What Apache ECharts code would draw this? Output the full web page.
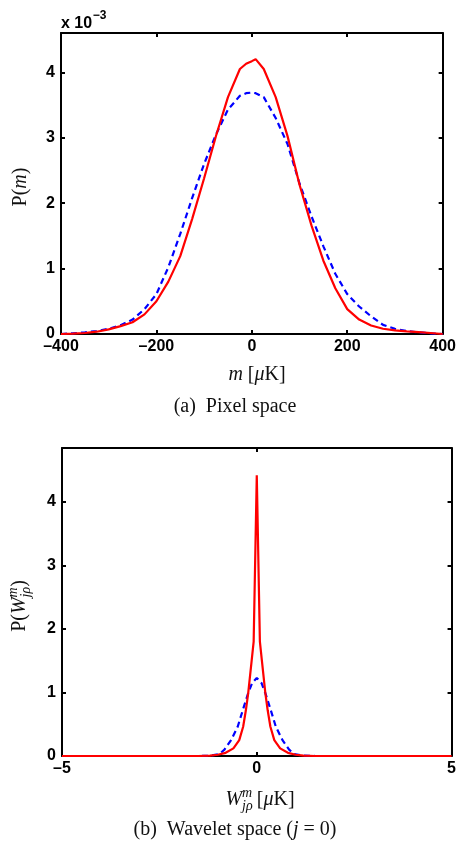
<!DOCTYPE html>
<html>
<head>
<meta charset="utf-8">
<script src="https://cdn.jsdelivr.net/npm/echarts@6/dist/echarts.min.js"></script>
<style>
html,body{margin:0;padding:0;background:#fff;}
#chart{width:459px;height:844px;}
</style>
</head>
<body>
<div id="chart"></div>
<script>
// ---- Panel (a): pixel space, values in units of 1e-3 ----
const pixelM = [-400,-375,-350,-325,-300,-275,-250,-225,-200,-175,-150,-125,-100,-75,-50,-25,-12,0,8,25,50,75,100,125,150,175,200,225,250,275,300,325,350,375,400];
const pixelRed = [0,0.005,0.015,0.035,0.07,0.12,0.18,0.30,0.50,0.80,1.19,1.76,2.38,3.03,3.62,4.05,4.13,4.17,4.20,4.05,3.62,3.02,2.28,1.66,1.12,0.70,0.38,0.22,0.13,0.08,0.055,0.04,0.03,0.015,0];
const pixelBlue = [0,0.01,0.025,0.045,0.08,0.135,0.22,0.38,0.61,1.02,1.53,2.08,2.60,3.05,3.43,3.64,3.68,3.69,3.68,3.62,3.30,2.90,2.30,1.80,1.34,0.92,0.61,0.42,0.27,0.14,0.08,0.045,0.025,0.01,0];
const pixelXTicks = [-400,-200,0,200,400];
const pixelYTicks = [0,1,2,3,4];

// ---- Panel (b): wavelet space (j = 0) ----
const waveRedW = [-5,-1.5,-1.2,-1.0,-0.8,-0.6,-0.45,-0.35,-0.28,-0.22,-0.13,-0.08,0,0.08,0.13,0.22,0.28,0.35,0.45,0.6,0.8,1.0,1.2,1.5,5];
const waveRed = [0,0,0.005,0.02,0.05,0.12,0.25,0.46,0.72,0.99,1.51,1.8,4.42,1.8,1.51,0.99,0.72,0.46,0.25,0.12,0.05,0.02,0.005,0,0];
const waveBlueW = [-5,-1.5,-1.2,-0.96,-0.83,-0.66,-0.49,-0.36,-0.22,-0.12,0,0.12,0.22,0.36,0.49,0.66,0.83,0.96,1.2,1.5,5];
const waveBlue = [0,0,0.005,0.03,0.1,0.25,0.46,0.72,0.99,1.15,1.23,1.15,0.99,0.72,0.46,0.25,0.1,0.03,0.005,0,0];
const waveXTicks = [-5,0,5];
const waveYTicks = [0,1,2,3,4];

function pairs(xs, ys){ return xs.map((x,i)=>[x, ys[i]]); }

const chart = echarts.init(document.getElementById('chart'), null, {renderer:'canvas'});

const TICKFONT = {color:'#000', fontFamily:'"Liberation Sans", Arial, sans-serif', fontWeight:'bold', fontSize:16};
const dashFmt = v => String(v).replace('-', '\u2013');

function mkX(grid, min, max, ticks, pos, labels){
  return {
    type:'value', gridIndex:grid, min:min, max:max, position:pos,
    axisLine:{show:true, onZero:false, lineStyle:{color:'#000', width:2}},
    axisTick:{show:true, inside:true, length:4, lineStyle:{color:'#000', width:2}, customValues:ticks},
    axisLabel:Object.assign({show:labels, margin:5, formatter:dashFmt, customValues:ticks}, TICKFONT),
    splitLine:{show:false}
  };
}
function mkY(grid, min, max, ticks, pos, labels){
  return {
    type:'value', gridIndex:grid, min:min, max:max, position:pos,
    axisLine:{show:true, onZero:false, lineStyle:{color:'#000', width:2}},
    axisTick:{show:true, inside:true, length:4, lineStyle:{color:'#000', width:2}, customValues:ticks},
    axisLabel:Object.assign({show:labels, margin:6, customValues:ticks}, TICKFONT),
    splitLine:{show:false}
  };
}

// text measuring for math-like labels
const mctx = document.createElement('canvas').getContext('2d');
function tw(font, s){ mctx.font = font; return mctx.measureText(s).width; }
const SERIF = '"Liberation Serif", "Times New Roman", serif';
const N = '20px ' + SERIF, I = 'italic 20px ' + SERIF, S = 'italic 14px ' + SERIF;

function mathLabel(cx, cy, rot, parts){
  let cur = 0; const items = [];
  parts.forEach(p => {
    items.push({x:cur, p:p});
    const w = tw(p.f, p.t);
    if (p.adv !== false) cur += (p.advW !== undefined ? p.advW : w);
  });
  const total = cur;
  return {
    type:'group', x:cx, y:cy, rotation:rot,
    children: items.map(it => ({
      type:'text', x: it.x - total/2, y: it.p.dy || 0,
      style:{text:it.p.t, font:it.p.f, fill:'#111', textAlign:'left', textVerticalAlign:'middle'}
    }))
  };
}

const MULT = 'bold 16px "Liberation Sans", Arial, sans-serif';
const graphics = [
  // x 10^-3 multiplier
  {type:'text', x:61, y:24, style:{text:'x 10', font:MULT, fill:'#000', textAlign:'left', textVerticalAlign:'middle'}},
  {type:'text', x:61 + tw(MULT,'x 10') + 0.5, y:16, style:{text:'\u22123', font:'bold 12px "Liberation Sans", Arial, sans-serif', fill:'#000', textAlign:'left', textVerticalAlign:'middle'}},
  // panel (a) axis titles
  mathLabel(257, 375, 0, [{t:'m',f:I},{t:' [',f:N},{t:'\u03bc',f:I},{t:'K]',f:N}]),
  mathLabel(21, 187, Math.PI/2, [{t:'P(',f:N},{t:'m',f:I},{t:')',f:N}]),
  mathLabel(235, 407, 0, [{t:'(a)  Pixel space',f:N}]),
  // panel (b) axis titles
  mathLabel(260, 800, 0, [{t:'W',f:I},{t:'m',f:S,dy:-7,adv:false},{t:'j\u03c1',f:S,dy:6,advW:tw(S,'j\u03c1')+4},{t:'[',f:N},{t:'\u03bc',f:I},{t:'K]',f:N}]),
  mathLabel(20, 606, Math.PI/2, [{t:'P(',f:N},{t:'W',f:I},{t:'m',f:S,dy:-7,adv:false},{t:'j\u03c1',f:S,dy:6},{t:')',f:N}]),
  mathLabel(235, 830, 0, [{t:'(b)  Wavelet space (',f:N},{t:'j',f:I},{t:' = 0)',f:N}])
];

const option = {
  animation:false,
  backgroundColor:'#fff',
  grid:[
    {left:61, top:33, width:382, height:301, show:false},
    {left:62, top:448, width:391, height:308, show:false}
  ],
  xAxis:[
    mkX(0,-400,400,pixelXTicks,'bottom',true),
    mkX(0,-400,400,pixelXTicks,'top',false),
    mkX(1,-5,5,waveXTicks,'bottom',true),
    mkX(1,-5,5,waveXTicks,'top',false)
  ],
  yAxis:[
    mkY(0,0,4.6,pixelYTicks,'left',true),
    mkY(0,0,4.6,pixelYTicks,'right',false),
    mkY(1,0,4.85,waveYTicks,'left',true),
    mkY(1,0,4.85,waveYTicks,'right',false)
  ],
  series:[
    {type:'line', xAxisIndex:0, yAxisIndex:0, data:pairs(pixelM,pixelBlue), showSymbol:false, clip:false,
      lineStyle:{color:'#0000ff', width:2.2, type:[6,4]}, z:3},
    {type:'line', xAxisIndex:0, yAxisIndex:0, data:pairs(pixelM,pixelRed), showSymbol:false, clip:false,
      lineStyle:{color:'#ff0000', width:2.2}, z:4},
    {type:'line', xAxisIndex:2, yAxisIndex:2, data:pairs(waveBlueW,waveBlue), showSymbol:false, clip:false,
      lineStyle:{color:'#0000ff', width:2.2, type:[6,4]}, z:3},
    {type:'line', xAxisIndex:2, yAxisIndex:2, data:pairs(waveRedW,waveRed), showSymbol:false, clip:false,
      lineStyle:{color:'#ff0000', width:2.2}, z:4}
  ],
  graphic:graphics
};
chart.setOption(option);
</script>
</body>
</html>
